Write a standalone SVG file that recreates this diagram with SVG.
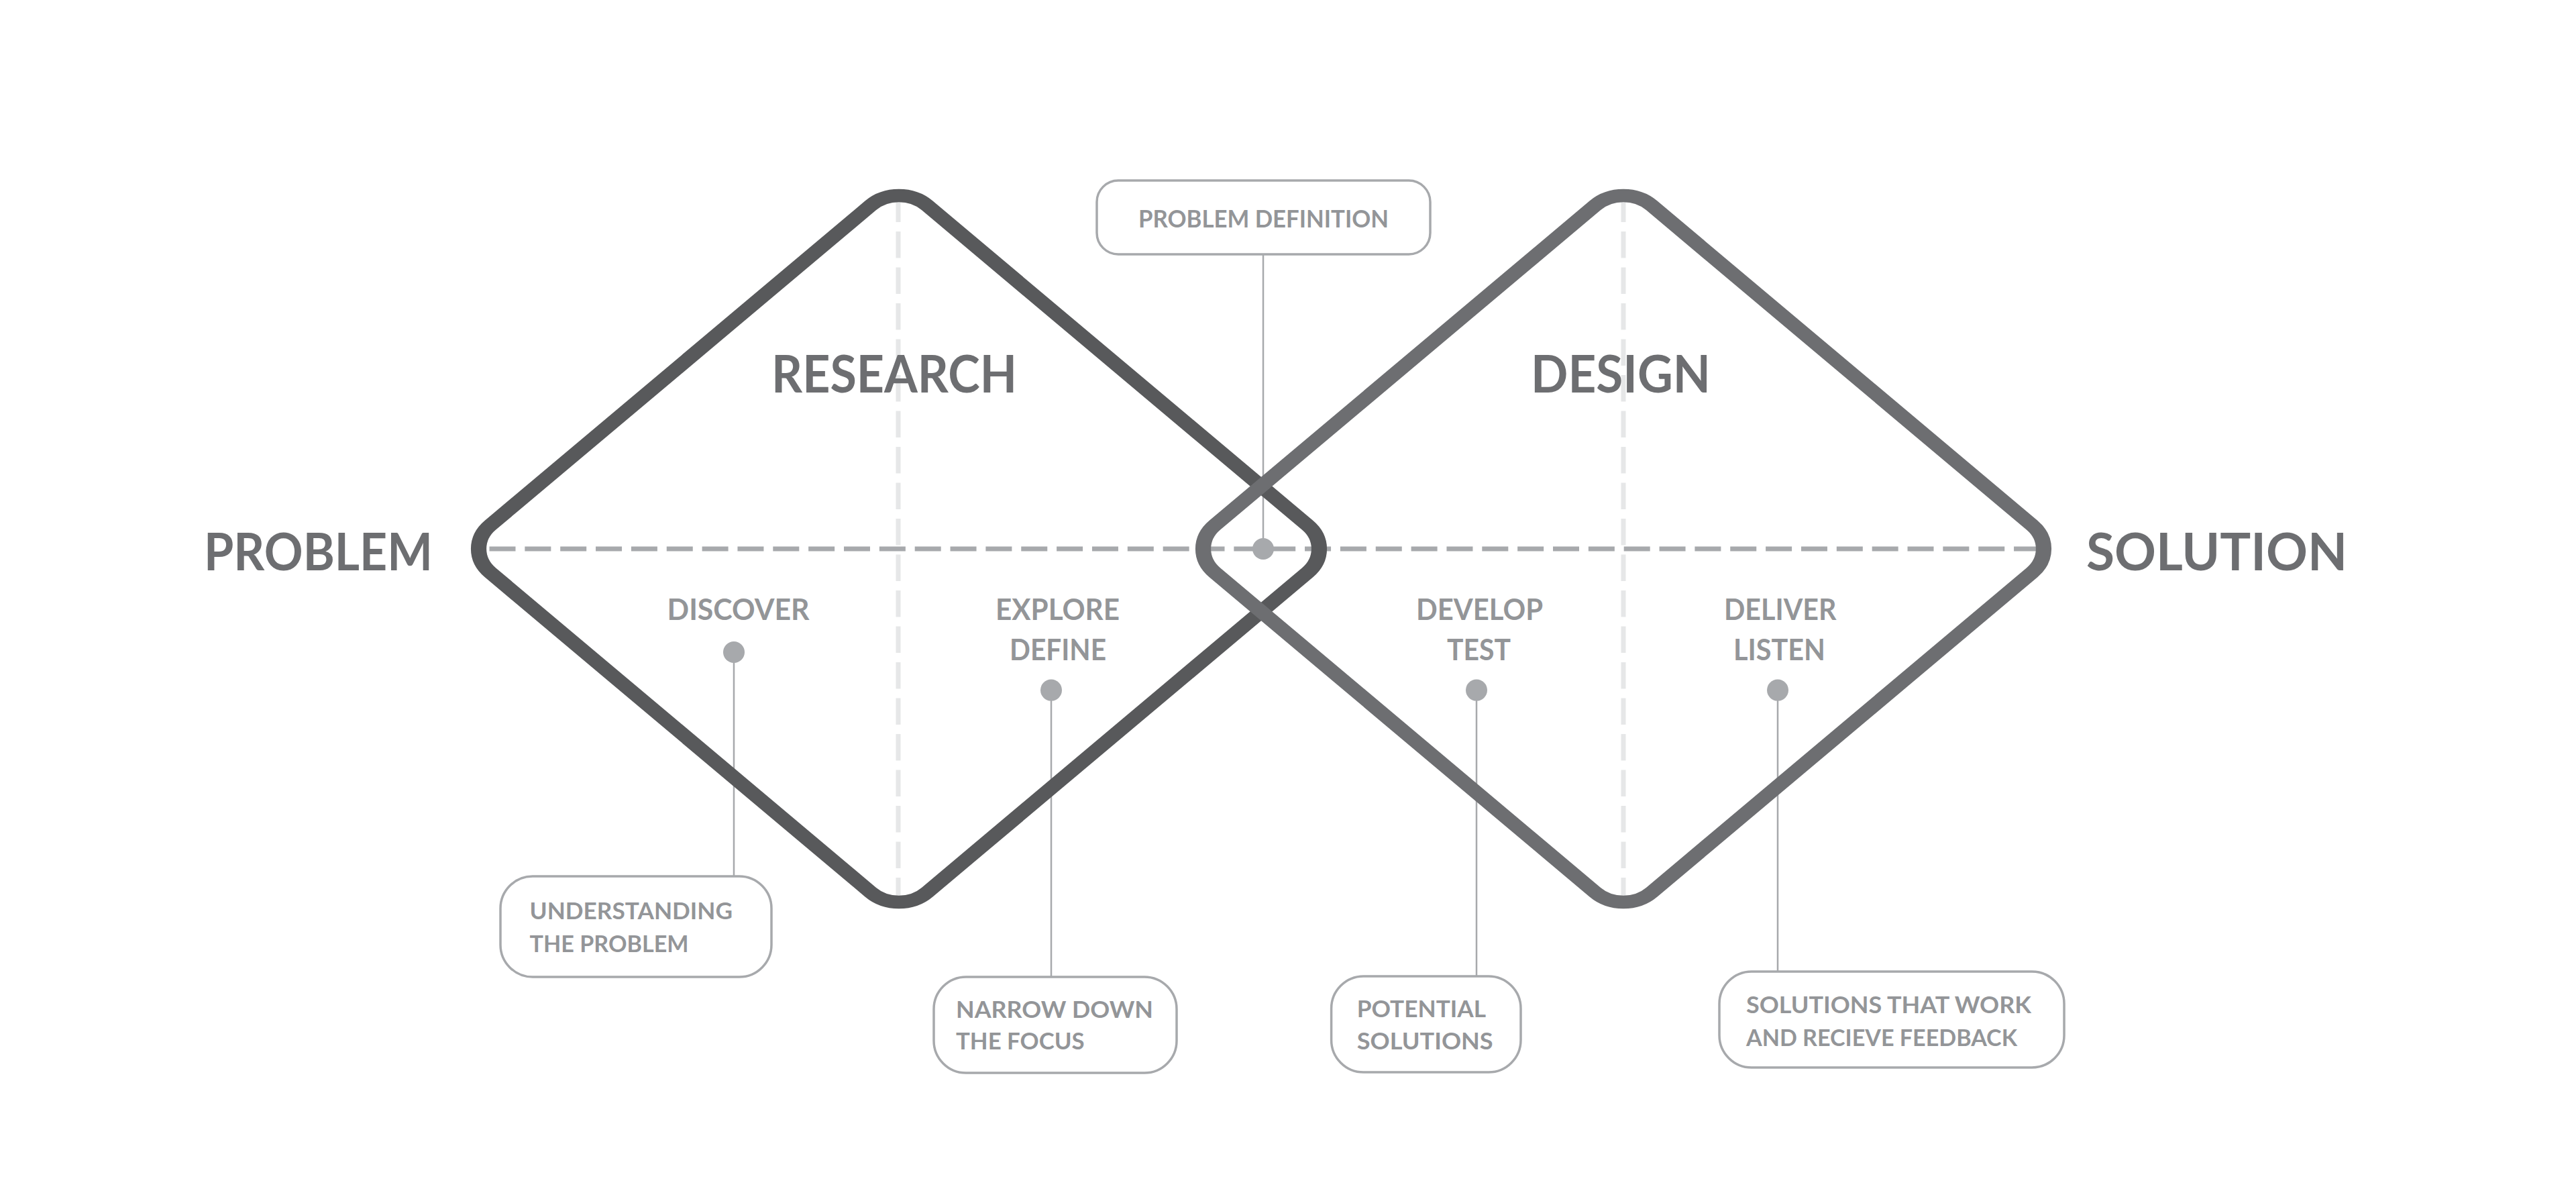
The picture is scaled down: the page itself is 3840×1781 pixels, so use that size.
<svg xmlns="http://www.w3.org/2000/svg" width="3840" height="1781" viewBox="0 0 3840 1781">
<style>
.title{font-family:Lato,"Liberation Sans",sans-serif;font-weight:700;font-size:77px;fill:#6d6e71}
.lbl{font-family:Lato,"Liberation Sans",sans-serif;font-weight:700;font-size:43px;fill:#939598}
.btxt{font-family:Lato,"Liberation Sans",sans-serif;font-weight:700;font-size:35px;fill:#939598}
.box{fill:#ffffff;stroke:#a7a9ac;stroke-width:3.5}
.conn{stroke:#a7a9ac;stroke-width:2.5;fill:none}
.dot{fill:#a7a9ac}
.vdash{stroke:#e6e7e8;stroke-width:7;stroke-dasharray:39.5 14;fill:none}
.hdash{stroke:#a7a9ac;stroke-width:7;stroke-dasharray:39 13.85;fill:none}
.dia{fill:none;stroke-width:19.5}
</style>
<rect x="0" y="0" width="3840" height="1781" fill="#ffffff"/>
<g id="guides">
<line class="vdash" x1="1339" y1="291.5" x2="1339" y2="1336"/>
<line class="vdash" x1="2420" y1="291.5" x2="2420" y2="1336"/>
<line class="hdash" x1="729.5" y1="818" x2="3040" y2="818"/>
</g>
<g id="connectors">
<line class="conn" x1="1883" y1="379" x2="1883" y2="818"/>
<line class="conn" x1="1094" y1="972" x2="1094" y2="1306"/>
<line class="conn" x1="1567" y1="1028" x2="1567" y2="1456"/>
<line class="conn" x1="2201" y1="1028" x2="2201" y2="1455"/>
<line class="conn" x1="2650" y1="1028" x2="2650" y2="1448"/>
</g>
<g id="research-diamond">
<g transform="translate(1340,818) scale(1.19,1)"><rect class="dia" stroke="#58595b" transform="rotate(45)" x="-386.9" y="-386.9" width="773.8" height="773.8" rx="50"/></g>
<text class="title" x="1150" y="585" textLength="366" lengthAdjust="spacingAndGlyphs">RESEARCH</text>
</g>
<g id="design-diamond">
<g transform="translate(2420,818) scale(1.19,1)"><rect class="dia" stroke="#6d6e71" transform="rotate(45)" x="-386.9" y="-386.9" width="773.8" height="773.8" rx="50"/></g>
<text class="title" x="2282" y="585" textLength="268" lengthAdjust="spacingAndGlyphs">DESIGN</text>
</g>
<g id="problem"><text class="title" x="304" y="850" textLength="341" lengthAdjust="spacingAndGlyphs">PROBLEM</text></g>
<g id="solution"><text class="title" x="3110" y="850" textLength="389" lengthAdjust="spacingAndGlyphs">SOLUTION</text></g>
<g id="center-dot"><circle class="dot" cx="1883" cy="818" r="16"/></g>
<g id="discover">
<text class="lbl" x="994.6" y="924" textLength="212" lengthAdjust="spacingAndGlyphs">DISCOVER</text>
<circle class="dot" cx="1094" cy="972" r="16"/>
</g>
<g id="explore-define">
<text class="lbl" x="1484" y="924" textLength="185" lengthAdjust="spacingAndGlyphs">EXPLORE</text>
<text class="lbl" x="1505" y="984" textLength="144" lengthAdjust="spacingAndGlyphs">DEFINE</text>
<circle class="dot" cx="1567" cy="1028.6" r="16"/>
</g>
<g id="develop-test">
<text class="lbl" x="2111" y="924" textLength="189" lengthAdjust="spacingAndGlyphs">DEVELOP</text>
<text class="lbl" x="2157" y="984" textLength="95" lengthAdjust="spacingAndGlyphs">TEST</text>
<circle class="dot" cx="2201" cy="1028.6" r="16"/>
</g>
<g id="deliver-listen">
<text class="lbl" x="2570" y="924" textLength="167.5" lengthAdjust="spacingAndGlyphs">DELIVER</text>
<text class="lbl" x="2584" y="984" textLength="137" lengthAdjust="spacingAndGlyphs">LISTEN</text>
<circle class="dot" cx="2650" cy="1028.6" r="16"/>
</g>
<g id="problem-definition">
<rect class="box" x="1635" y="269" width="497" height="110" rx="32"/>
<text class="btxt" style="font-size:36px" x="1697" y="339" textLength="373" lengthAdjust="spacingAndGlyphs">PROBLEM DEFINITION</text>
</g>
<g id="understanding">
<rect class="box" x="746" y="1306" width="404" height="150" rx="48"/>
<text class="btxt" x="789.5" y="1370" textLength="302.5" lengthAdjust="spacingAndGlyphs">UNDERSTANDING</text>
<text class="btxt" x="789.5" y="1419" textLength="237" lengthAdjust="spacingAndGlyphs">THE PROBLEM</text>
</g>
<g id="narrow">
<rect class="box" x="1392" y="1456" width="362" height="143" rx="48"/>
<text class="btxt" x="1425" y="1517" textLength="294" lengthAdjust="spacingAndGlyphs">NARROW DOWN</text>
<text class="btxt" x="1425" y="1564" textLength="191.6" lengthAdjust="spacingAndGlyphs">THE FOCUS</text>
</g>
<g id="potential">
<rect class="box" x="1984.6" y="1455" width="282.4" height="143" rx="48"/>
<text class="btxt" x="2022.7" y="1516" textLength="192.3" lengthAdjust="spacingAndGlyphs">POTENTIAL</text>
<text class="btxt" x="2022.7" y="1564" textLength="203" lengthAdjust="spacingAndGlyphs">SOLUTIONS</text>
</g>
<g id="solutions-work">
<rect class="box" x="2563" y="1448" width="514" height="143" rx="48"/>
<text class="btxt" x="2603" y="1510" textLength="425" lengthAdjust="spacingAndGlyphs">SOLUTIONS THAT WORK</text>
<text class="btxt" x="2603" y="1559" textLength="404" lengthAdjust="spacingAndGlyphs">AND RECIEVE FEEDBACK</text>
</g>
</svg>
